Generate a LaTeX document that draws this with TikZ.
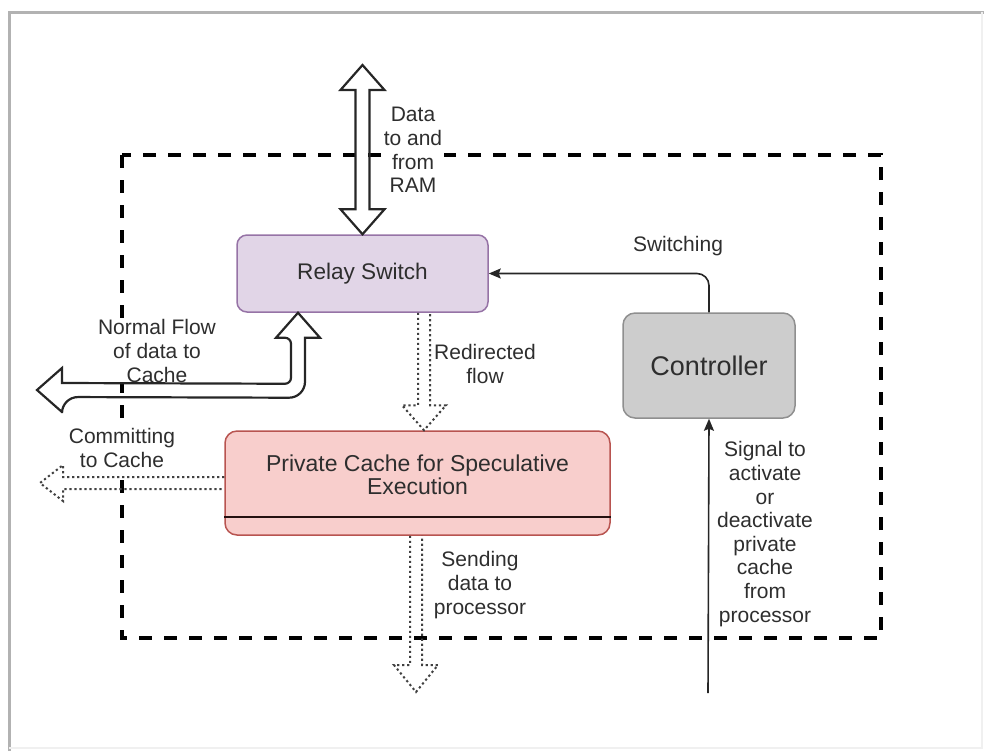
\documentclass[tikz,border=0pt]{standalone}
\usepackage{fontspec}
\setmainfont{Liberation Sans}
\usetikzlibrary{calc,arrows.meta}

\definecolor{relayfill}{HTML}{E1D5E7}
\definecolor{relaydraw}{HTML}{9673A6}
\definecolor{cachefill}{HTML}{F8CECC}
\definecolor{cachedraw}{HTML}{B85450}
\definecolor{ctrlfill}{HTML}{CDCDCD}
\definecolor{ctrldraw}{HTML}{8F8F8F}
\definecolor{txtgray}{HTML}{2E2E2E}

\begin{document}
\begin{tikzpicture}[x=0.5pt,y=-0.5pt,
  box/.style={draw, rounded corners=5pt, line width=0.75pt, inner sep=0pt, text=txtgray},
  lbl/.style={align=center, fill=white, inner sep=1pt, text=txtgray, font=\fontsize{10.5}{11.8}\selectfont},
  blockarrow/.style={draw=black!85, line width=1.1pt},
  dotarrow/.style={draw=black!75, line width=1pt, dash pattern=on 1.1pt off 1.4pt},
  flowline/.style={draw=black!85, line width=0.8pt, -{Stealth[length=6pt,width=5pt,inset=1pt]}}]
\useasboundingbox (0,0) rectangle (984,751);
\draw[gray!60, line width=1.5pt] (9,751) -- (9,12) -- (984,12);
\draw[gray!12, line width=1pt] (982,12) -- (982,748) -- (9,748);
\draw[line width=2pt, dash pattern=on 6.5pt off 6pt] (122,155) rectangle (881,638);

\node[box, fill=relayfill, draw=relaydraw, minimum width=125.5pt, minimum height=38.5pt,
  font=\fontsize{11.3}{13}\selectfont] (relay) at (362.5,273.5) {Relay Switch};
\node[box, fill=cachefill, draw=cachedraw, rounded corners=6pt, minimum width=192.5pt,
  minimum height=52pt] (cache) at (417.5,483) {};
\node[align=center, text=txtgray, font=\fontsize{11.5}{9.5}\selectfont] (cachetxt)
  at ($(cache.center)+(0,-8)$) {Private Cache for Speculative\\Execution};
\draw[draw=black!80!cachedraw, line width=0.9pt] ($(cache.west)+(0,34)$) -- ($(cache.east)+(0,34)$);
\node[box, fill=ctrlfill, draw=ctrldraw, rounded corners=6pt, minimum width=86pt,
  minimum height=52.5pt, font=\fontsize{13.5}{15}\selectfont] (ctrl) at (709,365.5) {Controller};

\coordinate (ramTip) at (362.5,65);
\coordinate (nfTip) at ($(relay.south)+(-64.5,0)$);
\coordinate (nfEnd) at (37,390);
\coordinate (rdTop) at ($(relay.south)+(61.5,0)$);
\coordinate (rdTip) at ($(cache.north)+(6.5,0)$);
\coordinate (sendTop) at ($(cache.south)+(-1.5,0)$);
\coordinate (sendTip) at (416,692);
\coordinate (commitTip) at (40,483);
\coordinate (sig) at (708,693);

% labels
\node[lbl] (ramlbl) at (413,150) {Data\\to and\\from\\RAM};
\node[lbl, fill=none] (swlbl) at (678,246) {Switching};
\node[lbl] (nflbl) at (157,351) {Normal Flow\\of data to\\Cache};
\node[lbl, fill=none] (rdlbl) at (485,364) {Redirected\\flow};
\node[lbl] (cmlbl) at (122,448) {Committing\\to Cache};
\node[lbl, fill=none] (sdlbl) at (480,585) {Sending\\data to\\processor};
\node[lbl, fill=none] (siglbl) at (765,534) {Signal to\\activate\\or\\deactivate\\private\\cache\\from\\processor};

\draw[blockarrow] (ramTip) -- ++(22,25) -- ++(-15,0) -- ($(relay.north)+(7,-25)$) -- ++(15,0)
  -- (relay.north) -- ++(-22,-25) -- ++(15,0) -- ($(ramTip)+(-7,25)$) -- ++(-15,0) -- cycle;
\draw[blockarrow] (nfTip) -- ++(22,25) -- ++(-15,0) [rounded corners=8pt] -- ($(nfTip)+(7,85)$)
  -- ($(nfEnd)+(25,7)$) [sharp corners] -- ++(0,15) -- (nfEnd) -- ++(25,-22) -- ++(0,15)
  [rounded corners=3pt] -- ($(nfTip)+(-7,71)$) -- ($(nfTip)+(-7,25)$) [sharp corners] -- ++(-15,0) -- cycle;
\draw[dotarrow] ($(rdTop)+(-6,0)$) -- ($(rdTip)+(-6,-25)$) -- ++(-16,0) -- (rdTip)
  -- ++(22,-25) -- ++(-16,0) -- ($(rdTop)+(6,0)$);
\draw[dotarrow] ($(sendTop)+(-6,0)$) -- ($(sendTip)+(-6,-27)$) -- ++(-16,0) -- (sendTip)
  -- ++(22,-27) -- ++(-16,0) -- ($(sendTop)+(6,0)$);
\draw[dotarrow] ($(cache.west)+(0,-6)$) -- ($(commitTip)+(23,-6)$) -- ++(0,-12) -- (commitTip)
  -- ++(23,18) -- ++(0,-12) -- ($(cache.west)+(0,6)$);

\draw[flowline, rounded corners=6pt] (ctrl.north) |- (relay.east);
\draw[flowline] (sig) -- (ctrl.south);
\end{tikzpicture}
\end{document}
